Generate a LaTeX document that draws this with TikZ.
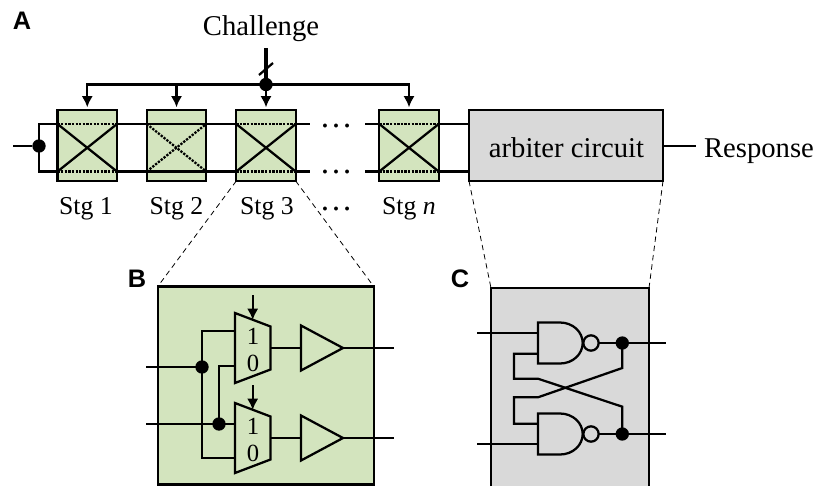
\documentclass[tikz,border=0pt]{standalone}
\usepackage{fontspec}
\setmainfont{Liberation Serif}
\newfontfamily\panelfont{Liberation Sans}
\usetikzlibrary{positioning,calc,arrows.meta}

\definecolor{stggreen}{HTML}{D3E4BE}
\definecolor{arbgray}{HTML}{D9D9D9}

\begin{document}
\begin{tikzpicture}[x=0.75pt,y=-0.75pt, line join=miter,
		wire/.style={line width=1.7pt},
		sig/.style={-{Latex[length=8.5pt,width=8.5pt]}, shorten >=2pt},
		thindash/.style={line width=0.6pt, dash pattern=on 4pt off 3pt},
		dot/.style={circle, fill=black, inner sep=0pt, minimum size=10pt},
		bubble/.style={circle, draw, line width=1.7pt, fill=arbgray, inner sep=0pt, minimum size=11.5pt, outer sep=0pt},
		stgbox/.style={draw, line width=1.7pt, fill=stggreen, minimum width=44.6pt, minimum height=53.2pt, inner sep=0pt, outer sep=0pt},
		lbl/.style={font=\fontsize{19.3pt}{20pt}\selectfont, anchor=base, inner sep=0pt},
		bigtxt/.style={font=\fontsize{21.5pt}{24pt}\selectfont, anchor=base, inner sep=0pt},
		muxtxt/.style={font=\fontsize{18.5pt}{20pt}\selectfont, inner sep=0pt},
		panellbl/.style={font=\panelfont\bfseries\fontsize{19pt}{20pt}\selectfont, inner sep=0pt}]
	\useasboundingbox (0,0) rectangle (814,486);

	% ===== panel labels =====
	\node[panellbl] (lblA) at (22,21) {A};
	\node[panellbl] (lblB) at (137,279) {B};
	\node[panellbl] (lblC) at (460,279) {C};

	% ===== stages =====
	\foreach \name/\x in {stg1/87.25,stg2/176.5,stg3/266,stgn/409}{
		\node[stgbox] (\name) at (\x,145.5) {};
		\coordinate (\name tl) at (\x-29.75,124);
		\coordinate (\name tr) at (\x+29.75,124);
		\coordinate (\name bl) at (\x-29.75,171.5);
		\coordinate (\name br) at (\x+29.75,171.5);
	}
	\node[draw, line width=1.7pt, fill=arbgray, minimum width=145.5pt, minimum height=53.2pt, inner sep=0pt, outer sep=0pt] (arb) at (566,145.5) {};
	\node[bigtxt] (arbtxt) at (566.5,157) {arbiter circuit};

	% ===== inside of the stages =====
	\foreach \name in {stg1,stg3,stgn}{
		\draw[wire] (\name tl) -- (\name br);
		\draw[wire] (\name bl) -- (\name tr);
		\draw[line width=1.7pt, densely dotted] (\name tl) -- (\name tr);
		\draw[line width=1.7pt, densely dotted] (\name bl) -- (\name br);
	}
	\draw[wire] (stg2tl) -- (stg2tr);
	\draw[wire] (stg2bl) -- (stg2br);
	\draw[line width=1.7pt, densely dotted] (stg2tl) -- (stg2br);
	\draw[line width=1.7pt, densely dotted] (stg2bl) -- (stg2tr);

	% ===== wires between stages =====
	\coordinate (inA) at (13,146);
	\node[dot] (split) at (39,146) {};
	\coordinate (endT) at (310,124);
	\coordinate (endB) at (310,171.5);
	\coordinate (restT) at (365,124);
	\coordinate (restB) at (365,171.5);
	\coordinate (outA) at (696,146);
	\draw[wire] (inA) -- (split);
	\draw[wire] (stg1tl) -| (split.center) |- (stg1bl);
	\draw[wire] (stg1tr) -- (stg2tl) (stg1br) -- (stg2bl);
	\draw[wire] (stg2tr) -- (stg3tl) (stg2br) -- (stg3bl);
	\draw[wire] (stg3tr) -- (endT) (stg3br) -- (endB);
	\draw[wire] (restT) -- (stgntl) (restB) -- (stgnbl);
	\draw[wire] (stgntr) -- (stgntr -| arb.west) (stgnbr) -- (stgnbr -| arb.west);
	\draw[wire] (arb.east |- outA) -- (outA);

	% ===== challenge bus =====
	\node[dot] (busdot) at (266,84.5) {};
	\coordinate (chtop) at (266,48);
	\coordinate (slashA) at (259,75);
	\coordinate (slashB) at (273,63);
	\draw[line width=3pt] (chtop) -- (busdot.center);
	\draw[wire] (slashA) -- (slashB);
	\draw[wire,sig] (busdot.center) -| (stg1.north);
	\draw[wire,sig] (busdot.center) -| (stgn.north);
	\draw[wire,sig] (stg2.north |- busdot) -- (stg2.north);
	\draw[wire,sig] (busdot.center) -- (stg3.north);

	% ===== texts =====
	\node[bigtxt] (challenge) at (261,35) {Challenge};
	\node[bigtxt] (response) at (759,157) {Response};
	\node[lbl] (lbl1) at (86,214) {Stg 1};
	\node[lbl] (lbl2) at (176.5,214) {Stg 2};
	\node[lbl] (lbl3) at (267,214) {Stg 3};
	\node[lbl] (lbln) at (409,214) {Stg \textit{n}};
	\foreach \nm/\yy in {dotsT/127,dotsB/173.5,dotsL/210}{
		\node[anchor=base, inner sep=0pt, font=\fontsize{24.75pt}{26pt}\selectfont] (\nm) at (336,\yy) {…};
	}

	% ===== panel B =====
	\node[draw, line width=1.7pt, fill=stggreen, minimum width=162pt, minimum height=148.5pt, inner sep=0pt, outer sep=0pt] (panelB) at (265.75,385.5) {};
	\draw[thindash] (stg3.south west) -- (panelB.north west);
	\draw[thindash] (stg3.south east) -- (panelB.north east);

	\coordinate (bin1) at (146,367);
	\coordinate (bin2) at (146,424);
	\coordinate (bout1) at (394,348);
	\coordinate (bout2) at (394,438);
	\node[dot] (bdot1) at (202,367) {};
	\node[dot] (bdot2) at (219,424) {};
	\coordinate (mux1a) at (235,331);
	\coordinate (mux1b) at (235,366);
	\coordinate (mux2a) at (235,424);
	\coordinate (mux2b) at (235,458);
	\draw[wire] (bin1) -- (bdot1.center);
	\draw[wire] (bin2) -- (mux2a);
	\draw[wire] (mux1a) -| (bdot1.center) |- (mux2b);
	\draw[wire] (mux1b) -| (bdot2.center);
	\foreach \y/\sel in {348/1,438/2}{
		\draw[wire] (235,\y-35) -- (270.5,\y-21.5) -- (270.5,\y+21.5) -- (235,\y+35) -- cycle;
		\draw[wire] (301,\y-22.5) -- (343,\y) -- (301,\y+22.5) -- cycle;
		\draw[wire] (270.5,\y) -- (301,\y);
		\node[muxtxt] (one\sel) at (253,\y-12) {1};
		\node[muxtxt] (zero\sel) at (253,\y+15) {0};
		\coordinate (sel\sel) at (252.7,\y-53);
		\coordinate (selend\sel) at (252.7,\y-28);
		\draw[wire,-{Latex[length=8.5pt,width=8.5pt]}] (sel\sel) -- (selend\sel);
		\draw[wire] (343,\y) -- (394,\y);
	}

	% ===== panel C =====
	\node[fill=arbgray, minimum width=118.5pt, minimum height=148.5pt, inner sep=0pt, outer sep=0pt] (panelC) at (570,387) {};
	\draw[wire] (panelC.south west) -- (panelC.north west) -- (panelC.north east) -- (panelC.south east);
	\draw[thindash] (arb.south west) -- (panelC.north west);
	\draw[thindash] (arb.south east) -- (panelC.north east);

	\foreach \y/\gt in {343/1,434/2}{
		\draw[wire] (538,\y-20.5) -- (560,\y-20.5) .. controls (573,\y-20.5) and (582.7,\y-11) .. (582.7,\y)
			.. controls (582.7,\y+11) and (573,\y+20.5) .. (560,\y+20.5) -- (538,\y+20.5) -- cycle;
		\node[bubble] (bub\gt) at (591,\y) {};
		\node[dot] (cdot\gt) at (622.3,\y) {};
		\coordinate (cout\gt) at (666,\y);
		\draw[wire] (bub\gt) -- (cdot\gt.center) -- (cout\gt);
	}
	\coordinate (cin1) at (477,332.7);
	\coordinate (cin2) at (477,444);
	\draw[wire] (cin1) -- (538,332.7);
	\draw[wire] (cin2) -- (538,444);
	% cross feedback
	\draw[wire] (538,353.7) -- (514,353.7) -- (514,378.7) -- (538,378.7) -- (622.3,406.7) -- (cdot2.center);
	\draw[wire] (538,423.7) -- (514,423.7) -- (514,397.3) -- (538,397.3) -- (622.3,368) -- (cdot1.center);
\end{tikzpicture}
\end{document}
